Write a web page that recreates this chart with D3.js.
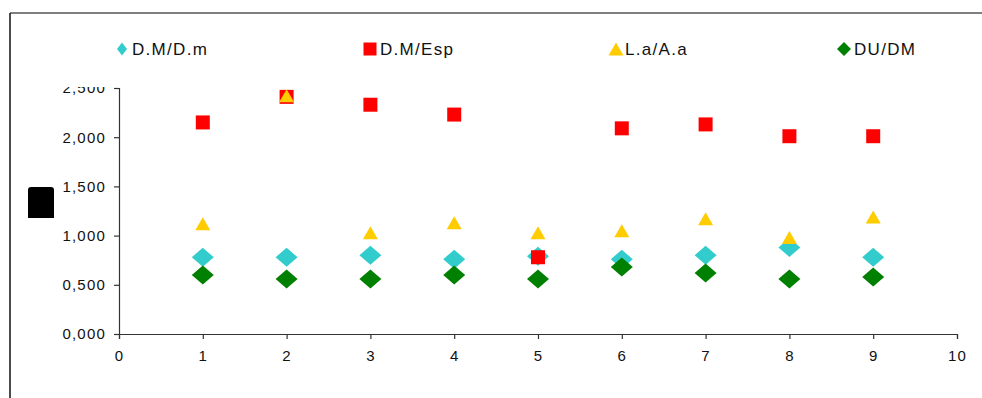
<!DOCTYPE html>
<html>
<head>
<meta charset="utf-8">
<script src="https://cdn.jsdelivr.net/npm/d3@7"></script>
<style>
  body { margin: 0; background: #fff; }
  svg { display: block; font-family: Arial, "Liberation Sans", sans-serif; }
  .tick text { font-size: 15px; letter-spacing: 1.2px; fill: #111; }
  .legend text { font-size: 17px; letter-spacing: 1.3px; fill: #111; }
</style>
</head>
<body>
<svg id="chart"></svg>
<script>
// data
const xValues = [1, 2, 3, 4, 5, 6, 7, 8, 9];
const dmDm  = [0.78, 0.78, 0.80, 0.76, 0.79, 0.76, 0.80, 0.88, 0.78];  // D.M/D.m
const dmEsp = [2.15, 2.41, 2.33, 2.23, 0.78, 2.09, 2.13, 2.01, 2.01];  // D.M/Esp
const laAa  = [1.12, 2.42, 1.03, 1.13, 1.03, 1.05, 1.17, 0.98, 1.19];  // L.a/A.a
const duDm  = [0.60, 0.56, 0.56, 0.60, 0.56, 0.68, 0.62, 0.56, 0.58];  // DU/DM
const seriesNames = ['D.M/D.m', 'D.M/Esp', 'L.a/A.a', 'DU/DM'];
const xTicks = [0, 1, 2, 3, 4, 5, 6, 7, 8, 9, 10];
const yTicks = [0, 0.5, 1, 1.5, 2, 2.5];

const width = 982, height = 398;

const svg = d3.select('#chart')
  .attr('width', width)
  .attr('height', height);

// outer frame (only top and left edges show)
svg.append('line')
  .attr('x1', 10).attr('y1', 13).attr('x2', width).attr('y2', 13)
  .attr('stroke', '#555').attr('stroke-width', 1.5);
svg.append('line')
  .attr('x1', 10).attr('y1', 13).attr('x2', 10).attr('y2', height)
  .attr('stroke', '#111').attr('stroke-width', 1.5);

// the black block where the y title would be
svg.append('path')
  .attr('d', 'M28,218 L28,190 Q28,187 31,187 L51,187 Q54,187 54,190 L54,218 Z')
  .attr('fill', '#000');

const x = d3.scaleLinear().domain([0, 10]).range([119, 957]);
const y = d3.scaleLinear().domain([0, 2.5]).range([334, 88]);

// top label is cut off in the original
svg.append('clipPath').attr('id', 'yclip')
  .append('rect').attr('x', -200).attr('y', 87).attr('width', 260).attr('height', 300);

const yAxis = svg.append('g')
  .attr('transform', `translate(${x(0)},0)`)
  .attr('clip-path', 'url(#yclip)')
  .call(d3.axisLeft(y)
    .tickValues(yTicks)
    .tickSize(5)
    .tickPadding(8)
    .tickFormat(d => d.toFixed(3).replace('.', ',')));

const xAxis = svg.append('g')
  .attr('transform', `translate(0,${y(0)})`)
  .call(d3.axisBottom(x)
    .tickValues(xTicks)
    .tickSize(5)
    .tickPadding(11)
    .tickFormat(d3.format('d')));

[xAxis, yAxis].forEach(g => {
  g.select('.domain').attr('stroke', '#333').attr('stroke-width', 1.2);
  g.selectAll('.tick line').attr('stroke', '#333').attr('stroke-width', 1.2);
  g.attr('font-family', null).attr('font-size', null);
});

// marker shapes
function diamond(w, h) {
  return `M0,${-h/2} L${w/2},0 L0,${h/2} L${-w/2},0 Z`;
}
function square(s) {
  return `M${-s/2},${-s/2} h${s} v${s} h${-s} Z`;
}
function triangle(w, h) {
  return `M0,${-h/2} L${w/2},${h/2} L${-w/2},${h/2} Z`;
}

const series = [
  { name: seriesNames[0], values: dmDm,  color: '#33CCCC', shape: diamond(22, 19), leg: diamond(10, 13), lx: 122, tx: 132 },
  { name: seriesNames[1], values: dmEsp, color: '#FF0000', shape: square(14),      leg: square(13),      lx: 370, tx: 380 },
  { name: seriesNames[2], values: laAa,  color: '#FFCC00', shape: triangle(15, 13), leg: triangle(15, 13), lx: 616, tx: 625 },
  { name: seriesNames[3], values: duDm,  color: '#008000', shape: diamond(22, 19), leg: diamond(14, 14), lx: 844, tx: 854 }
];

series.forEach(s => {
  svg.append('g')
    .selectAll('path')
    .data(xValues.map((d, i) => ({ x: d, y: s.values[i] })))
    .enter()
    .append('path')
    .attr('d', s.shape)
    .attr('transform', d => `translate(${x(d.x)},${y(d.y)})`)
    .attr('fill', s.color);
});

// legend
const legend = svg.append('g').attr('class', 'legend');
series.forEach(s => {
  legend.append('path')
    .attr('d', s.leg)
    .attr('transform', `translate(${s.lx},49)`)
    .attr('fill', s.color);
  legend.append('text')
    .attr('x', s.tx)
    .attr('y', 55)
    .text(s.name);
});
</script>
</body>
</html>
